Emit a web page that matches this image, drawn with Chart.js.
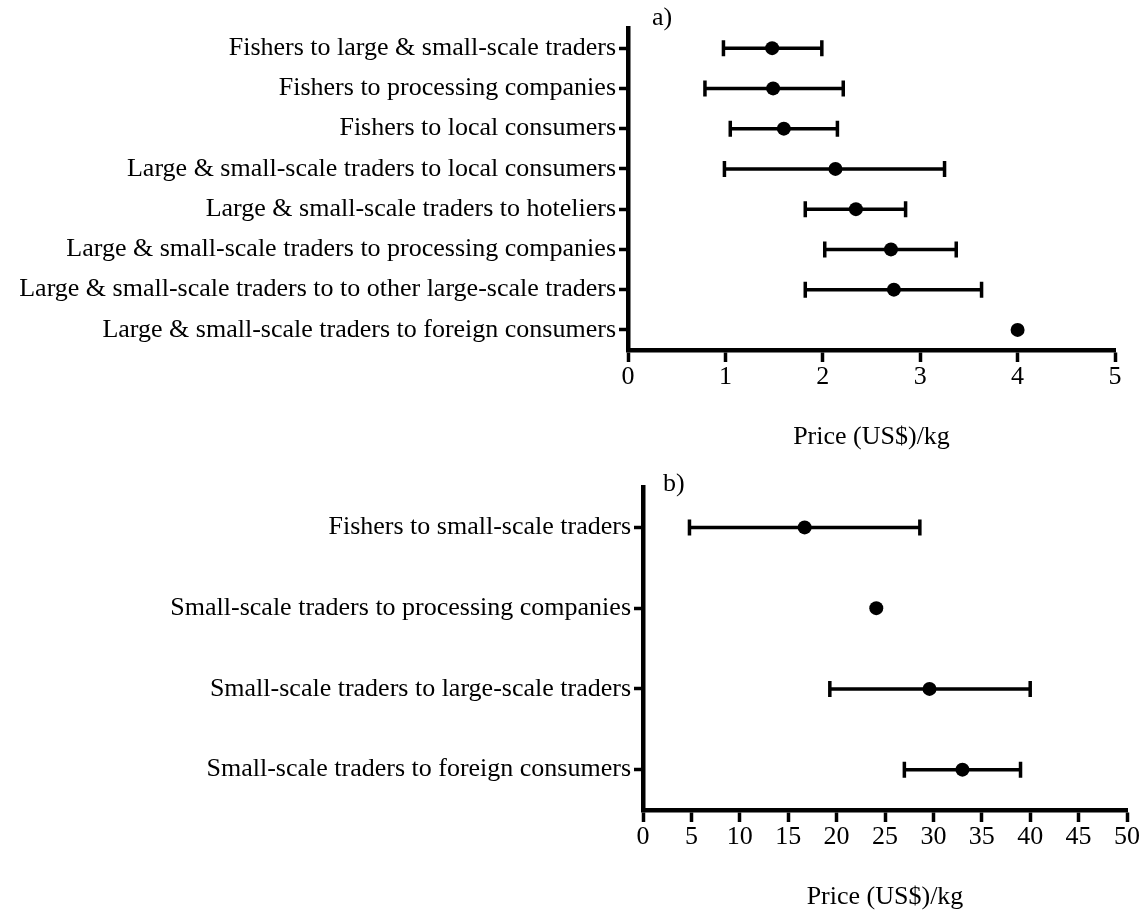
<!DOCTYPE html>
<html>
<head>
<meta charset="utf-8">
<script src="https://cdn.jsdelivr.net/npm/chart.js@4.4.1/dist/chart.umd.min.js"></script>
<style>
  html, body { margin: 0; padding: 0; background: #fff; overflow: hidden; }
  body { width: 1148px; height: 911px; position: relative; }
  canvas { position: absolute; left: 0; }
  #panelA { top: 0; }
  #panelB { top: 460px; }
</style>
</head>
<body>
<canvas id="panelA" width="1148" height="460"></canvas>
<canvas id="panelB" width="1148" height="460"></canvas>
<script>
// Panel a) – price per kg along each trade link (mean with range)
const panelACategories = [
  'Fishers to large & small-scale traders',
  'Fishers to processing companies',
  'Fishers to local consumers',
  'Large & small-scale traders to local consumers',
  'Large & small-scale traders to hoteliers',
  'Large & small-scale traders to processing companies',
  'Large & small-scale traders to to other large-scale traders',
  'Large & small-scale traders to foreign consumers'
];
const panelAMean = [1.48, 1.49, 1.60, 2.13, 2.34, 2.70, 2.73, 4.00];
const panelALow  = [0.98, 0.79, 1.05, 0.99, 1.82, 2.02, 1.82, null];
const panelAHigh = [1.99, 2.21, 2.15, 3.25, 2.85, 3.37, 3.63, null];
const panelATicks = [0, 1, 2, 3, 4, 5];

// Panel b) – price per kg along each trade link (mean with range)
const panelBCategories = [
  'Fishers to small-scale traders',
  'Small-scale traders to processing companies',
  'Small-scale traders to large-scale traders',
  'Small-scale traders to foreign consumers'
];
const panelBMean = [16.7, 24.1, 29.6, 33.0];
const panelBLow  = [4.8, null, 19.3, 27.0];
const panelBHigh = [28.6, null, 40.0, 39.0];
const panelBTicks = [0, 5, 10, 15, 20, 25, 30, 35, 40, 45, 50];

const axisTitle = 'Price (US$)/kg';
const FONT_FAMILY = '"Liberation Serif", "Times New Roman", serif';
const FONT_SIZE = 26;

// Horizontal range whiskers with end caps, drawn beneath the points
const errorBarPlugin = {
  id: 'errorBars',
  beforeDatasetsDraw(chart, args, opts) {
    const { ctx } = chart;
    const xs = chart.scales.x, ys = chart.scales.y;
    ctx.save();
    ctx.strokeStyle = '#000';
    ctx.lineWidth = 3.5;
    opts.low.forEach((lo, i) => {
      const hi = opts.high[i];
      if (lo == null || hi == null) return;
      const py = ys.getPixelForValue(i);
      const x0 = xs.getPixelForValue(lo);
      const x1 = xs.getPixelForValue(hi);
      ctx.beginPath();
      ctx.moveTo(x0, py); ctx.lineTo(x1, py);
      ctx.moveTo(x0, py - opts.cap); ctx.lineTo(x0, py + opts.cap);
      ctx.moveTo(x1, py - opts.cap); ctx.lineTo(x1, py + opts.cap);
      ctx.stroke();
    });
    ctx.restore();
  }
};

// Panel letter in the top-left corner of the plot area
const panelLabelPlugin = {
  id: 'panelLabel',
  afterDraw(chart, args, opts) {
    const { ctx, chartArea } = chart;
    ctx.save();
    ctx.fillStyle = '#000';
    ctx.font = FONT_SIZE + 'px ' + FONT_FAMILY;
    ctx.textAlign = 'left';
    ctx.textBaseline = 'middle';
    ctx.fillText(opts.text, chartArea.left + opts.dx, chartArea.top + opts.dy);
    ctx.restore();
  }
};

function makePanel(canvasId, cats, mean, low, high, ticks, cfg) {
  const font = { family: FONT_FAMILY, size: FONT_SIZE };
  return new Chart(document.getElementById(canvasId), {
    type: 'line',
    data: {
      labels: cats,
      datasets: [{
        data: mean,
        showLine: false,
        pointRadius: 7,
        pointHoverRadius: 7,
        pointBackgroundColor: '#000',
        pointBorderColor: '#000',
        pointBorderWidth: 0,
        clip: false
      }]
    },
    options: {
      indexAxis: 'y',
      responsive: false,
      animation: false,
      devicePixelRatio: 1,
      layout: { padding: { top: cfg.top, right: cfg.right, left: 0, bottom: 0 } },
      plugins: {
        legend: { display: false },
        tooltip: { enabled: false },
        errorBars: { low: low, high: high, cap: 8 },
        panelLabel: { text: cfg.label, dx: cfg.labelDx, dy: cfg.labelDy }
      },
      scales: {
        x: {
          type: 'linear',
          min: ticks[0],
          max: ticks[ticks.length - 1],
          afterBuildTicks(scale) { scale.ticks = ticks.map(v => ({ value: v })); },
          afterFit(scale) { scale.height = 110; },
          ticks: { font: font, color: '#000', padding: 0, maxRotation: 0 },
          grid: { drawOnChartArea: false, drawTicks: true, tickLength: 12, tickWidth: 3.5, tickColor: '#000' },
          border: { display: true, color: '#000', width: 4.5 },
          title: { display: true, text: axisTitle, font: font, color: '#000', padding: { top: 0, bottom: 7 } }
        },
        y: {
          type: 'category',
          offset: true,
          afterFit(scale) { scale.width = cfg.left; },
          ticks: { font: font, color: '#000', padding: 3, autoSkip: false },
          grid: { offset: false, drawOnChartArea: false, drawTicks: true, tickLength: 9, tickWidth: 3.5, tickColor: '#000' },
          border: { display: true, color: '#000', width: 4.5 }
        }
      }
    },
    plugins: [errorBarPlugin, panelLabelPlugin]
  });
}

makePanel('panelA', panelACategories, panelAMean, panelALow, panelAHigh, panelATicks,
  { top: 28, right: 33, left: 628, label: 'a)', labelDx: 24, labelDy: -10 });
makePanel('panelB', panelBCategories, panelBMean, panelBLow, panelBHigh, panelBTicks,
  { top: 27, right: 21, left: 643, label: 'b)', labelDx: 20, labelDy: -3 });
</script>
</body>
</html>
